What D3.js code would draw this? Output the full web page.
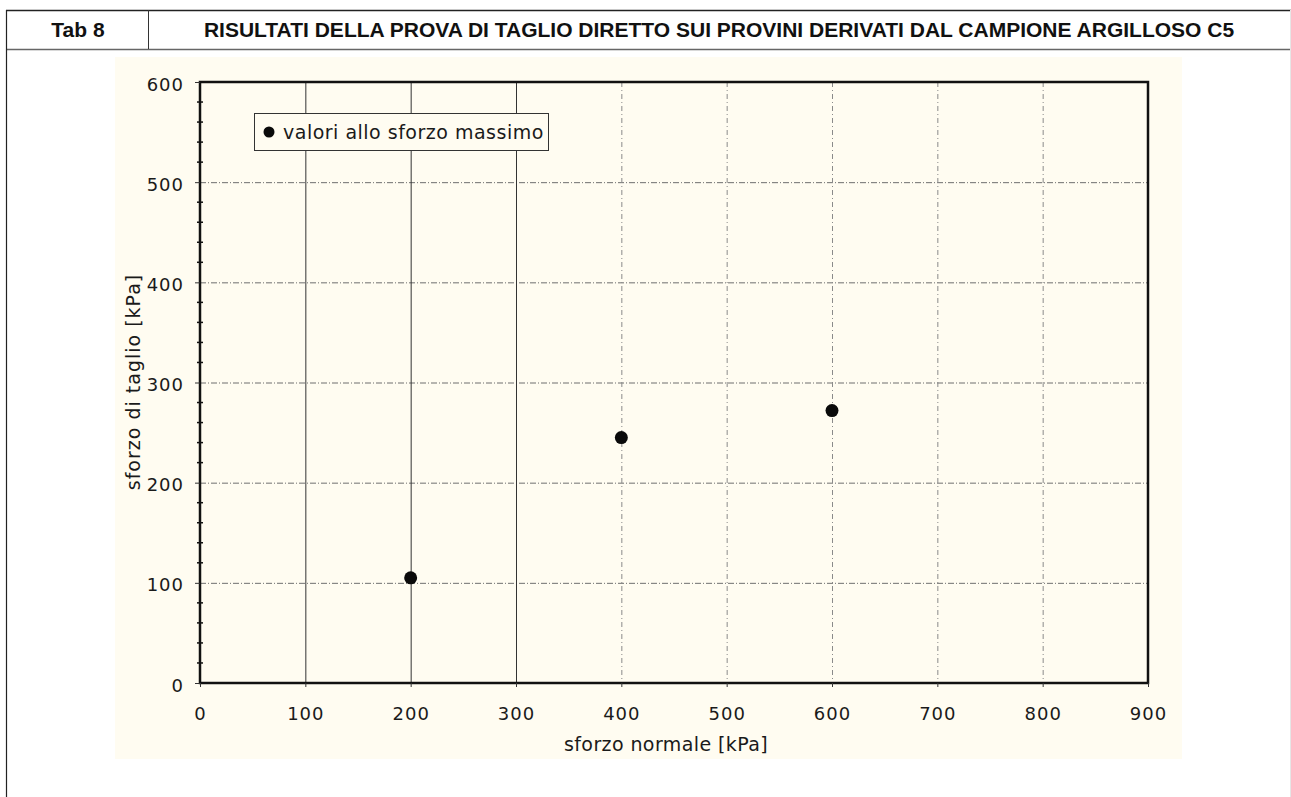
<!DOCTYPE html>
<html>
<head>
<meta charset="utf-8">
<script src="https://cdn.jsdelivr.net/npm/d3@7"></script>
<style>
  html, body { margin: 0; padding: 0; background: #ffffff; }
  svg { display: block; }
</style>
</head>
<body>
<svg id="chart" width="1291" height="797"></svg>
<script>
// Direct shear test results: peak shear stress vs normal stress
const normalStress = [200, 400, 600];          // kPa
const shearStress  = [105, 245, 272];          // kPa
const xTicks = [0, 100, 200, 300, 400, 500, 600, 700, 800, 900];
const yTicks = [0, 100, 200, 300, 400, 500, 600];
const solidVerticals = [100, 200, 300];
const tableLabel = "Tab 8";
const tableTitle = "RISULTATI DELLA PROVA DI TAGLIO DIRETTO SUI PROVINI DERIVATI DAL CAMPIONE ARGILLOSO C5";
const legendLabel = "valori allo sforzo massimo";
const xTitle = "sforzo normale [kPa]";
const yTitle = "sforzo di taglio [kPa]";

const svg = d3.select("#chart");
const chartFont = "'DejaVu Sans', 'Noto Sans', sans-serif";
const headFont = "'Liberation Sans', Arial, sans-serif";

// ---- table frame ----
const frame = svg.append("g");
frame.append("line").attr("x1", 6).attr("x2", 1291).attr("y1", 10.5).attr("y2", 10.5)
  .attr("stroke", "#222").attr("stroke-width", 1.3);
frame.append("line").attr("x1", 6).attr("x2", 1291).attr("y1", 49.5).attr("y2", 49.5)
  .attr("stroke", "#666").attr("stroke-width", 1.6);
frame.append("line").attr("x1", 6.5).attr("x2", 6.5).attr("y1", 10).attr("y2", 797)
  .attr("stroke", "#222").attr("stroke-width", 1.2);
frame.append("line").attr("x1", 148.5).attr("x2", 148.5).attr("y1", 10).attr("y2", 49)
  .attr("stroke", "#333").attr("stroke-width", 1);
frame.append("line").attr("x1", 1290.5).attr("x2", 1290.5).attr("y1", 10).attr("y2", 797)
  .attr("stroke", "#e6e6e6").attr("stroke-width", 1);

frame.append("text").attr("x", 78).attr("y", 36.5).attr("text-anchor", "middle")
  .attr("font-family", headFont).attr("font-weight", "bold")
  .attr("font-size", 21).attr("fill", "#111").text(tableLabel);
frame.append("text").attr("x", 719).attr("y", 36.5).attr("text-anchor", "middle")
  .attr("font-family", headFont).attr("font-weight", "bold")
  .attr("font-size", 21).attr("fill", "#111").text(tableTitle);

// ---- chart paper ----
svg.append("rect").attr("x", 115).attr("y", 57).attr("width", 1067).attr("height", 702)
  .attr("fill", "#fffcf1");

const x = d3.scaleLinear().domain([0, 900]).range([200, 1148]);
const y = d3.scaleLinear().domain([0, 600]).range([683, 82]);

const plot = svg.append("g");

// horizontal grid (dash-dot)
plot.append("g").selectAll("line").data(yTicks.filter(d => d > 0 && d < 600)).join("line")
  .attr("x1", x(0)).attr("x2", x(900))
  .attr("y1", d => y(d) + 0.5).attr("y2", d => y(d) + 0.5)
  .attr("stroke", "#6f6f6f").attr("stroke-width", 1)
  .attr("stroke-dasharray", "6,2,1,2");

// vertical grid
plot.append("g").selectAll("line").data(xTicks.filter(d => d > 0 && d < 900)).join("line")
  .attr("x1", d => x(d) + 0.5).attr("x2", d => x(d) + 0.5)
  .attr("y1", y(600)).attr("y2", y(0))
  .attr("stroke", d => solidVerticals.includes(d) ? "#333" : "#8a8a8a")
  .attr("stroke-width", 1)
  .attr("stroke-dasharray", d => solidVerticals.includes(d) ? null : "5,3,1,3");

// plot frame
plot.append("rect").attr("x", x(0)).attr("y", y(600))
  .attr("width", x(900) - x(0)).attr("height", y(0) - y(600))
  .attr("fill", "none").attr("stroke", "#111").attr("stroke-width", 2.5);

// axes
const yAxis = d3.axisLeft(y).tickValues(yTicks).tickSize(5).tickPadding(11);
const yAx = plot.append("g").attr("transform", `translate(${x(0)},0)`).call(yAxis);
yAx.select(".domain").remove();
yAx.selectAll(".tick line").attr("stroke", "#333");
yAx.selectAll("text").attr("font-family", chartFont).attr("font-size", 18)
  .attr("letter-spacing", 1).attr("fill", "#1a1a1a").attr("dy", "0.45em");

// minor ticks on y axis every 20 kPa
plot.append("g").selectAll("line").data(d3.range(20, 600, 20).filter(d => d % 100 !== 0)).join("line")
  .attr("x1", x(0) - 3).attr("x2", x(0) + 3)
  .attr("y1", d => y(d)).attr("y2", d => y(d))
  .attr("stroke", "#111").attr("stroke-width", 1.5);

const xAxis = d3.axisBottom(x).tickValues(xTicks).tickSize(4).tickPadding(20);
const xAx = plot.append("g").attr("transform", `translate(0,${y(0)})`).call(xAxis);
xAx.select(".domain").remove();
xAx.selectAll(".tick line").attr("stroke", "#333");
xAx.selectAll("text").attr("font-family", chartFont).attr("font-size", 18)
  .attr("letter-spacing", 1).attr("fill", "#1a1a1a");

// axis titles
svg.append("text").attr("x", 666).attr("y", 751).attr("text-anchor", "middle")
  .attr("font-family", chartFont).attr("font-size", 19).attr("letter-spacing", 0.4)
  .attr("fill", "#1a1a1a").text(xTitle);
svg.append("text").attr("transform", `translate(140,382) rotate(-90)`).attr("text-anchor", "middle")
  .attr("font-family", chartFont).attr("font-size", 19).attr("letter-spacing", 1)
  .attr("fill", "#1a1a1a").text(yTitle);

// data points
plot.append("g").selectAll("circle").data(normalStress.map((v, i) => [v, shearStress[i]])).join("circle")
  .attr("cx", d => x(d[0])).attr("cy", d => y(d[1])).attr("r", 6.5)
  .attr("fill", "#0a0a0a");

// legend
const lg = svg.append("g");
lg.append("rect").attr("x", 254.5).attr("y", 113.5).attr("width", 294).attr("height", 37)
  .attr("fill", "#fffcf1").attr("stroke", "#333").attr("stroke-width", 1);
lg.append("circle").attr("cx", 269).attr("cy", 132).attr("r", 5.5).attr("fill", "#0a0a0a");
lg.append("text").attr("x", 283).attr("y", 138.5).attr("font-family", chartFont)
  .attr("font-size", 19).attr("letter-spacing", 0.5).attr("fill", "#1a1a1a").text(legendLabel);
</script>
</body>
</html>
